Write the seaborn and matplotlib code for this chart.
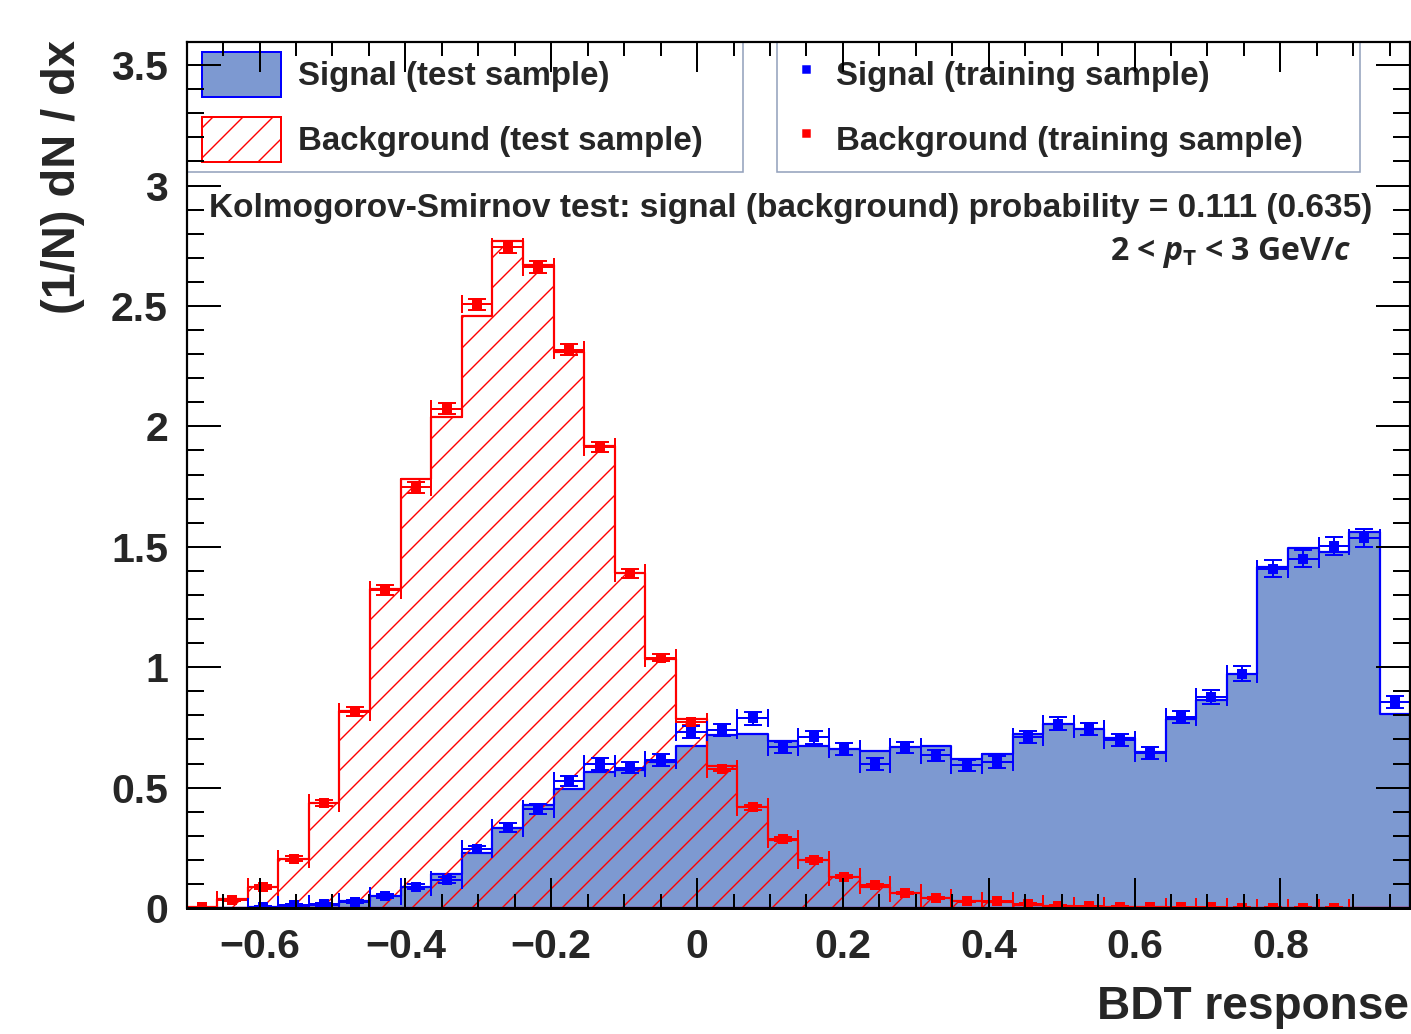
import numpy as np
import pandas as pd
import matplotlib
matplotlib.use("Agg")
import matplotlib.pyplot as plt
import seaborn as sns
from matplotlib.patches import Patch
from matplotlib.lines import Line2D
from matplotlib.legend_handler import HandlerPatch
from matplotlib.ticker import MultipleLocator, FuncFormatter

# ---------------- data ----------------
bdt_min = -0.7002
bdt_max = 0.9782
n_bins = 40

sig_test = [0.001, 0.002, 0.004, 0.008, 0.011, 0.027, 0.050, 0.088, 0.141, 0.227,
            0.334, 0.429, 0.496, 0.565, 0.573, 0.607, 0.672, 0.720, 0.724, 0.694,
            0.672, 0.661, 0.654, 0.669, 0.672, 0.619, 0.638, 0.724, 0.766, 0.745,
            0.705, 0.649, 0.783, 0.863, 0.971, 1.416, 1.496, 1.480, 1.560, 0.805]

bkg_test = [0.004, 0.037, 0.088, 0.203, 0.435, 0.820, 1.326, 1.780, 2.039, 2.460,
            2.769, 2.671, 2.308, 1.917, 1.391, 1.033, 0.784, 0.589, 0.418, 0.282,
            0.199, 0.127, 0.088, 0.061, 0.041, 0.030, 0.026, 0.012, 0.008, 0.006,
            0.004, 0.003, 0.002, 0.002, 0.001, 0.001, 0.001, 0.001, 0.0, 0.0]

sig_train = [0.0, 0.0, 0.005, 0.011, 0.015, 0.026, 0.050, 0.088, 0.116, 0.243,
             0.334, 0.412, 0.528, 0.598, 0.582, 0.614, 0.729, 0.741, 0.787, 0.667,
             0.708, 0.661, 0.598, 0.667, 0.634, 0.592, 0.606, 0.711, 0.766, 0.743,
             0.697, 0.644, 0.794, 0.877, 0.973, 1.409, 1.451, 1.503, 1.538, 0.856]

sig_train_err = [0.0, 0.0, 0.003, 0.004, 0.005, 0.006, 0.008, 0.010, 0.012, 0.016,
                 0.018, 0.020, 0.022, 0.023, 0.023, 0.024, 0.025, 0.025, 0.026, 0.024,
                 0.025, 0.024, 0.024, 0.024, 0.024, 0.023, 0.024, 0.025, 0.026, 0.025,
                 0.025, 0.024, 0.026, 0.028, 0.030, 0.035, 0.036, 0.036, 0.037, 0.026]

bkg_train = [0.003, 0.033, 0.088, 0.205, 0.436, 0.815, 1.320, 1.747, 2.073, 2.506,
             2.744, 2.661, 2.318, 1.913, 1.389, 1.040, 0.773, 0.578, 0.418, 0.286,
             0.199, 0.130, 0.095, 0.062, 0.042, 0.028, 0.028, 0.018, 0.010, 0.007,
             0.005, 0.004, 0.003, 0.003, 0.002, 0.002, 0.002, 0.001, 0.0, 0.0]

bkg_train_err = [0.002, 0.005, 0.008, 0.011, 0.014, 0.018, 0.021, 0.022, 0.023, 0.024,
                 0.024, 0.024, 0.022, 0.020, 0.017, 0.015, 0.013, 0.011, 0.010, 0.008,
                 0.007, 0.006, 0.005, 0.004, 0.004, 0.003, 0.003, 0.002, 0.002, 0.002,
                 0.002, 0.002, 0.002, 0.002, 0.002, 0.002, 0.002, 0.002, 0.0, 0.0]

legend_test = ["Signal (test sample)", "Background (test sample)"]
legend_train = ["Signal (training sample)", "Background (training sample)"]
ks_text = "Kolmogorov-Smirnov test: signal (background) probability = 0.111 (0.635)"
pt_text = r"2 < $p_{\mathrm{T}}$ < 3 GeV/$c$"
x_label = "BDT response"
y_label = "(1/N) dN / dx"
y_max = 3.596

# ---------------- style ----------------
DPI = 180
PX = 72.0 / DPI          # points per pixel
W, H = 1411, 1034

sns.set_style("ticks")
plt.rcParams["font.family"] = ["Liberation Sans", "DejaVu Sans"]
plt.rcParams["font.weight"] = "bold"
plt.rcParams["mathtext.fontset"] = "custom"
plt.rcParams["mathtext.rm"] = "Open Sans:bold"
plt.rcParams["mathtext.it"] = "Open Sans:italic:bold"
plt.rcParams["mathtext.bf"] = "Open Sans:bold"
plt.rcParams["hatch.linewidth"] = 1.4 * PX
plt.rcParams["axes.unicode_minus"] = True

BLUE = "#0000ff"
RED = "#ff0000"
FILL = "#7d99d1"
LEGEND_EDGE = "#96a3bd"
HATCH = "//"

edges = np.linspace(bdt_min, bdt_max, n_bins + 1)
centers = 0.5 * (edges[:-1] + edges[1:])
half = 0.5 * np.diff(edges)

fig = plt.figure(figsize=(W / DPI, H / DPI), dpi=DPI)
fig.patch.set_facecolor("white")
ax_l, ax_r, ax_b, ax_t = 186.5, 1410.3, 908.0, 42.0
ax = fig.add_axes([ax_l / W, (H - ax_b) / H, (ax_r - ax_l) / W, (ax_b - ax_t) / H])
ax.set_facecolor("white")

df = pd.DataFrame({"bdt": centers, "sig_test": sig_test, "bkg_test": bkg_test,
                   "sig_train": sig_train, "bkg_train": bkg_train,
                   "sig_err": sig_train_err, "bkg_err": bkg_train_err, "half": half})

# test-sample histograms
sns.histplot(data=df, x="bdt", weights="sig_test", bins=n_bins,
             binrange=(bdt_min, bdt_max), element="step", color=BLUE,
             fill=True, stat="count", facecolor=FILL, edgecolor=BLUE,
             linewidth=2.2 * PX, alpha=1, ax=ax, zorder=1.0)
sns.histplot(data=df, x="bdt", weights="bkg_test", bins=n_bins,
             binrange=(bdt_min, bdt_max), element="step", color=RED,
             fill=True, stat="count", facecolor="none", edgecolor=RED,
             hatch=HATCH, linewidth=2.2 * PX, alpha=1, ax=ax, zorder=1.1)

# training-sample points with error bars
for col, ecol, color in [("bkg_train", "bkg_err", RED), ("sig_train", "sig_err", BLUE)]:
    sub = df[df[col] > 0]
    ax.errorbar(sub["bdt"], sub[col], xerr=sub["half"], yerr=sub[ecol], fmt="none",
                ecolor=color, elinewidth=2.0 * PX, capsize=9 * PX, capthick=2.0 * PX,
                zorder=1.6)
    sns.scatterplot(data=sub, x="bdt", y=col, marker="s", s=(10 * PX) ** 2,
                    color=color, edgecolor=color, linewidth=0, ax=ax, zorder=1.7,
                    legend=False)

# ---------------- axes ----------------
ax.set_xlim(bdt_min, bdt_max)
ax.set_ylim(0, y_max)
ax.set_axisbelow(False)

fmt = FuncFormatter(lambda v, p: ("%g" % (0 if abs(v) < 1e-9 else v)).replace("-", "\u2212"))
ax.xaxis.set_major_locator(MultipleLocator(0.2))
ax.xaxis.set_minor_locator(MultipleLocator(0.05))
ax.yaxis.set_major_locator(MultipleLocator(0.5))
ax.yaxis.set_minor_locator(MultipleLocator(0.1))
ax.xaxis.set_major_formatter(fmt)
ax.yaxis.set_major_formatter(fmt)

tick_fs = 41 * PX
ax.tick_params(axis="x", which="major", direction="in", top=True, bottom=True,
               length=30 * PX, width=2 * PX, pad=20 * PX, labelsize=tick_fs, color="black")
ax.tick_params(axis="x", which="minor", direction="in", top=True, bottom=True,
               length=14 * PX, width=2 * PX, color="black")
ax.tick_params(axis="y", which="major", direction="in", left=True, right=True,
               length=34 * PX, width=2 * PX, pad=18.5 * PX, labelsize=tick_fs, color="black")
ax.tick_params(axis="y", which="minor", direction="in", left=True, right=True,
               length=17 * PX, width=2 * PX, color="black")
for lab in ax.get_xticklabels() + ax.get_yticklabels():
    lab.set_fontweight("bold")

for name, sp in ax.spines.items():
    sp.set_visible(True)
    sp.set_color("black")
    sp.set_linewidth(2.2 * PX)
ax.spines["bottom"].set_linewidth(3.0 * PX)

aw, ah = (ax_r - ax_l), (ax_b - ax_t)

ax.set_xlabel(x_label, fontsize=46 * PX, fontweight="bold")
ax.xaxis.label.set_ha("right")
ax.xaxis.label.set_va("baseline")
ax.xaxis.set_label_coords((1409 - ax_l) / aw, (ax_b - 1019) / ah)

ax.set_ylabel(y_label, fontsize=47 * PX, fontweight="bold")
ax.yaxis.label.set_rotation_mode("anchor")
ax.yaxis.label.set_ha("right")
ax.yaxis.label.set_va("center")
ax.yaxis.set_label_coords((63 - ax_l) / aw, (ax_b - 40) / ah)

# ---------------- legends ----------------
leg_fs = 33 * PX
box_bottom = (ax_b - 175) / ah
box_h = 1 - box_bottom
patch_pad = 5.5 / 33

test_handles = [Patch(facecolor=FILL, edgecolor=BLUE, linewidth=2 * PX),
                Patch(facecolor="white", edgecolor=RED, hatch=HATCH, linewidth=2 * PX)]
leg1 = ax.legend(test_handles, legend_test, loc="upper left",
                 bbox_to_anchor=(0, box_bottom, (742.6 - ax_l) / aw, box_h),
                 mode="expand", borderaxespad=0, borderpad=0.31,
                 handlelength=84 / 33, handleheight=1.72, labelspacing=0.59,
                 handletextpad=0.53, fancybox=False, framealpha=1, facecolor="white",
                 edgecolor=LEGEND_EDGE, prop={"size": leg_fs, "weight": "bold"},
                 handler_map={Patch: HandlerPatch(xpad=patch_pad)})
leg1.get_frame().set_linewidth(1.6 * PX)
leg1.set_zorder(2.2)
ax.add_artist(leg1)

train_handles = [Line2D([], [], marker="s", ls="none", color=BLUE, markersize=6.5 * PX),
                 Line2D([], [], marker="s", ls="none", color=RED, markersize=6.5 * PX)]
leg2 = ax.legend(train_handles, legend_train, loc="upper left",
                 bbox_to_anchor=((777.5 - ax_l) / aw, box_bottom, (1360.5 - 777.5) / aw, box_h),
                 mode="expand", borderaxespad=0, borderpad=0.31,
                 handlelength=36 / 33, handleheight=1.72, labelspacing=0.59,
                 handletextpad=0.38, fancybox=False, framealpha=1, facecolor="white",
                 edgecolor=LEGEND_EDGE, prop={"size": leg_fs, "weight": "bold"})
leg2.get_frame().set_linewidth(1.6 * PX)
leg2.set_zorder(2.2)

# ---------------- annotations ----------------
ax.text((209 - ax_l) / aw, (ax_b - 217) / ah, ks_text, transform=ax.transAxes,
        fontsize=33.4 * PX, fontweight="bold", ha="left", va="baseline", zorder=3)
ax.text((1351 - ax_l) / aw, (ax_b - 260) / ah, pt_text, transform=ax.transAxes,
        fontsize=32 * PX, fontweight="bold", family=["Open Sans", "DejaVu Sans"],
        ha="right", va="baseline", zorder=3)

fig.savefig("out.png", dpi=DPI, facecolor="white")
